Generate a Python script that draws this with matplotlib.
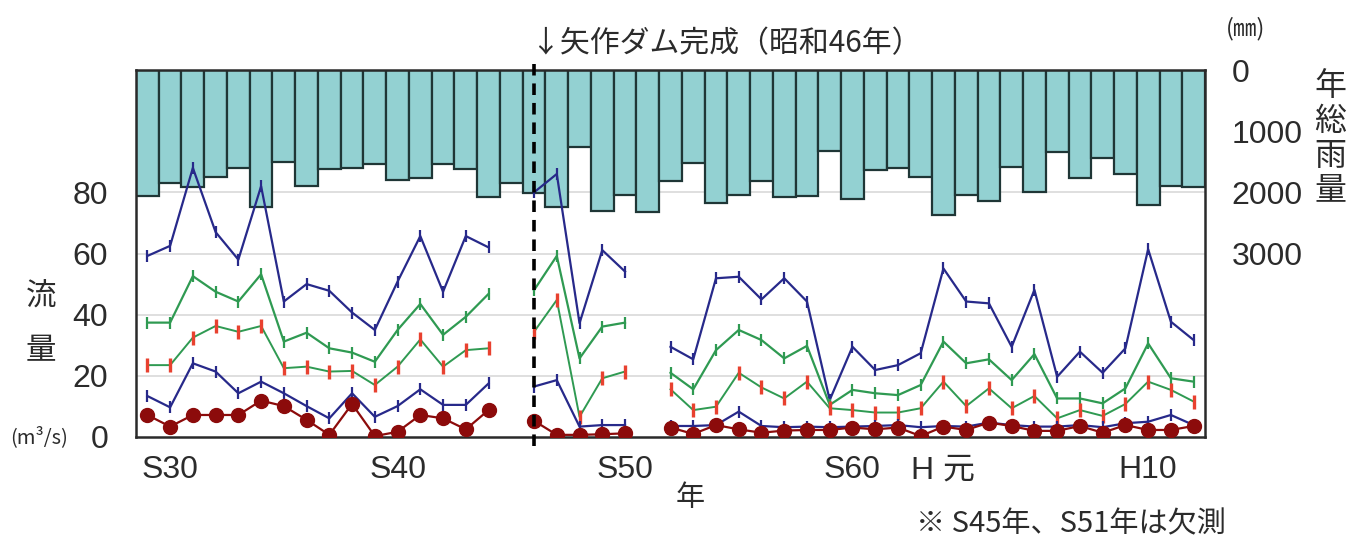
import numpy as np
import matplotlib
matplotlib.use("Agg")
import matplotlib.pyplot as plt

nan = np.nan

# Years S29 (1954) .. H12 (2000)
years = list(range(1954, 2001))
tick_years = [1955, 1965, 1975, 1985, 1989, 1998]
tick_labels = ["S30", "S40", "S50", "S60", "H 元", "H10"]
dam_year = 1971

# Annual total rainfall (mm)
rain = [2060, 1840, 1910, 1755, 1610, 2235, 1500, 1890, 1620, 1600,
        1540, 1800, 1770, 1540, 1620, 2080, 1855, 2005, 2245, 1255,
        2300, 2045, 2315, 1810, 1525, 2170, 2045, 1810, 2070, 2060,
        1325, 2115, 1635, 1610, 1745, 2370, 2045, 2135, 1580, 1990,
        1345, 1770, 1445, 1705, 2205, 1890, 1920]

# Flow rates (m3/s); S45 and S51 not observed
flow_high = [59.2, 62.5, 88.0, 67.0, 58.0, 82.0, 44.3, 50.0, 47.8, 40.7,
             35.0, 50.8, 65.7, 47.5, 65.7, 62.0, nan, 80.0, 86.0, 37.2,
             61.1, 54.1, nan, 29.5, 25.4, 51.9, 52.4, 45.0, 51.9, 44.3,
             12.1, 29.5, 21.9, 23.5, 27.4, 55.1, 44.3, 43.7, 29.5, 48.1,
             19.7, 27.9, 21.0, 29.0, 61.4, 37.7, 31.7]
flow_normal = [37.4, 37.4, 52.6, 47.5, 44.3, 53.2, 31.2, 34.1, 29.0, 27.6,
               24.6, 35.0, 43.5, 33.4, 39.3, 46.8, nan, 48.0, 59.2, 25.7,
               36.1, 37.4, nan, 21.0, 15.6, 28.4, 35.0, 31.7, 25.7, 29.8,
               10.5, 15.4, 14.3, 13.7, 17.0, 31.2, 24.1, 25.4, 18.6, 27.1,
               12.6, 12.6, 11.0, 15.9, 30.6, 19.2, 18.1]
flow_low = [23.5, 23.5, 32.5, 36.3, 34.4, 36.3, 22.5, 23.0, 21.4, 21.6,
            17.0, 23.0, 31.9, 23.0, 28.4, 29.0, nan, 34.4, 44.8, 6.6,
            19.2, 21.4, nan, 15.6, 8.8, 9.9, 21.0, 16.2, 12.6, 18.1,
            9.4, 8.8, 8.0, 8.0, 9.4, 18.1, 10.1, 15.9, 9.4, 13.4,
            6.1, 8.8, 6.9, 10.8, 18.1, 15.4, 11.6]
flow_drought = [13.4, 9.7, 24.1, 21.4, 14.3, 18.1, 14.3, 10.1, 6.1, 14.3,
                6.6, 10.1, 15.6, 10.5, 10.5, 17.5, nan, 16.5, 18.6, 3.4,
                3.9, 3.9, nan, 3.6, 3.6, 3.9, 8.3, 3.6, 3.2, 3.4,
                3.2, 3.4, 3.6, 3.9, 3.2, 3.6, 3.4, 4.7, 3.9, 3.4,
                3.4, 3.9, 3.2, 4.5, 5.0, 7.2, 3.9]
flow_min = [7.2, 3.4, 7.2, 7.2, 7.2, 11.9, 10.1, 5.6, 0.7, 10.8,
            0.3, 1.7, 7.2, 6.1, 2.5, 8.8, nan, 5.3, 0.7, 0.7,
            0.9, 1.2, nan, 3.1, 1.0, 3.9, 2.5, 1.4, 2.1, 2.3,
            2.3, 3.1, 2.5, 3.1, 0.3, 3.4, 2.3, 4.7, 3.6, 2.0,
            2.0, 3.6, 1.4, 3.9, 2.3, 2.3, 3.6]

CJK = ["Noto Sans CJK JP", "DejaVu Sans"]
NUM = ["Liberation Sans", "Noto Sans CJK JP"]
TXT = "#2b2b2b"
W, H = 1356, 543

fig = plt.figure(figsize=(W / 100, H / 100), dpi=100)
L, R, T, B = 136, 1205, 70, 437
ax = fig.add_axes([L / W, 1 - B / H, (R - L) / W, (B - T) / H])
ax2 = ax.twinx()

x = np.arange(len(years))
pos = {y: i for i, y in enumerate(years)}

# rainfall bars hanging from the top (inverted right axis)
ax.set_ylim(6000, 0)
ax.set_xlim(-0.5, len(years) - 0.5)
for g in [1000, 2000, 3000, 4000, 5000]:
    ax.axhline(g, color="#d9d9d9", lw=1.2, zorder=0)
ax.bar(x, rain, width=1.0, bottom=0, color="#93d1d2",
       edgecolor="#1f3636", linewidth=1.6, zorder=1)
ax.yaxis.tick_right()
ax.set_yticks([0, 1000, 2000, 3000])
ax.set_yticklabels(["0", "1000", "2000", "3000"])
ax.tick_params(axis="y", length=0, pad=19, labelsize=23, labelcolor=TXT,
               labelfontfamily=NUM)

ax.set_xticks([pos[y] for y in tick_years])
ax.set_xticklabels(tick_labels)
ax.tick_params(axis="x", length=0, pad=13, labelsize=23, labelcolor=TXT,
               labelfontfamily=NUM)
for sp in ax.spines.values():
    sp.set_color("#2a2a2a")
    sp.set_linewidth(1.8)

# flow lines on the left axis
ax2.set_ylim(0, 120)
ax2.yaxis.tick_left()
ax2.set_yticks([0, 20, 40, 60, 80])
ax2.tick_params(axis="y", length=0, pad=20, labelsize=23, labelcolor=TXT,
                labelfontfamily=NUM)
for sp in ax2.spines.values():
    sp.set_visible(False)

navy = "#27298a"
green = "#2f9a52"
ax2.plot(x, flow_high, color=navy, lw=1.6, marker="|", ms=8, mew=1.6, zorder=3)
ax2.plot(x, flow_normal, color=green, lw=1.6, marker="|", ms=8, mew=1.6, zorder=3)
ax2.plot(x, flow_low, color=green, lw=1.4, marker="|", ms=10, mew=2.4,
         mec="#e8412f", zorder=3)
ax2.plot(x, flow_drought, color=navy, lw=1.6, marker="|", ms=8, mew=1.6, zorder=3)
ax2.plot(x, flow_min, color="#8c0b0b", lw=1.6, marker="o", ms=10,
         mfc="#8c0b0b", mec="#8c0b0b", zorder=4)

# dam completion line
ax2.axvline(pos[dam_year], ymin=-0.025, ymax=1.015, color="black", lw=2.6,
            ls=(0, (3.2, 2.2)), clip_on=False, zorder=5)


def ftext(px, py, s, **kw):
    fig.text(px / W, 1 - py / H, s, **kw)


ftext(530, 44, "↓矢作ダム完成（昭和46年）", fontsize=21.5, family=CJK,
      color=TXT, ha="left", va="center")
ftext(1226, 29, "(㎜)", fontsize=17, family=CJK, color=TXT,
      ha="left", va="center")
for ch, py in zip("年総雨量", [86, 121, 156, 190]):
    ftext(1330, py, ch, fontsize=23, family=CJK, color=TXT,
          ha="center", va="center")
ftext(41, 297, "流", fontsize=22, family=CJK, color=TXT, ha="center", va="center")
ftext(41, 351, "量", fontsize=22, family=CJK, color=TXT, ha="center", va="center")
ftext(10, 437, "(m³/s)", fontsize=14.5, family=CJK, color=TXT,
      ha="left", va="center")
ftext(690, 498, "年", fontsize=21, family=CJK, color=TXT, ha="center", va="center")
ftext(916, 524, "※ S45年、S51年は欠測", fontsize=21, family=CJK, color=TXT,
      ha="left", va="center")

fig.savefig("out.png", dpi=100)
